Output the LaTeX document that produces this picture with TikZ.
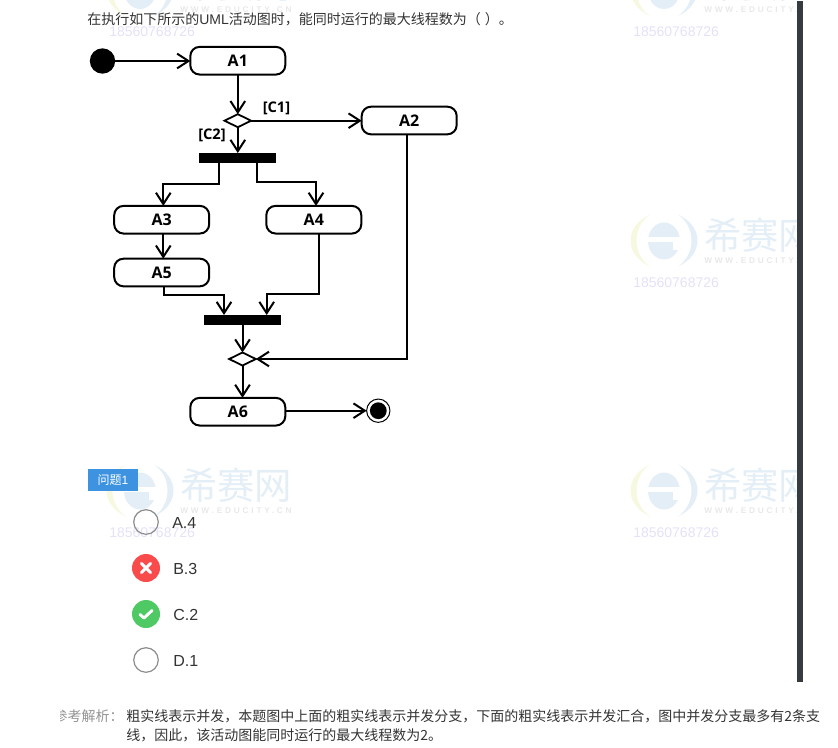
\documentclass[tikz,border=0pt]{standalone}
\usepackage{fontspec}
\usetikzlibrary{arrows.meta,shapes.geometric,calc}
\setmainfont{Noto Sans CJK SC}
\newfontfamily\latinui{Liberation Sans}
\newfontfamily\diag{Open Sans}
\newfontfamily\wwwfont[LetterSpace=34]{Liberation Sans}
\definecolor{inkc}{HTML}{333333}
\definecolor{wmblue}{HTML}{E4EEF7}
\definecolor{wmyellow}{HTML}{F6F8DF}
\definecolor{wmgray}{HTML}{E8E8E8}
\definecolor{wmnum}{HTML}{E4E1F8}
\definecolor{tagblue}{HTML}{3D93E0}
\definecolor{barc}{HTML}{363B40}
\definecolor{ringc}{HTML}{8C8C8C}
\definecolor{redc}{HTML}{F94A4C}
\definecolor{greenc}{HTML}{4EC963}
\newcommand{\wmark}[2]{%
 \begin{scope}[shift={(#1,#2)}]
  \fill[wmblue] (0,0.5) ellipse[x radius=16,y radius=18.5];
  \fill[white] (-17,-3.5) rectangle (17,1.5);
  \fill[white] (9,1) rectangle (17,9);
  \fill[wmblue] (14,-26) .. controls (40,-14) and (40,14) .. (14,26) .. controls (32,14) and (32,-14) .. (14,-26) -- cycle;
  \fill[wmyellow] (-14,-26) .. controls (-40,-14) and (-40,14) .. (-14,26) .. controls (-32,14) and (-32,-14) .. (-14,-26) -- cycle;
  \node[anchor=west,inner sep=0,text=wmblue,font=\fontsize{28}{28}\selectfont] (wa#1#2) at (40,-5.5) {希赛网};
  \node[anchor=west,inner sep=0,text=wmgray,font=\wwwfont\bfseries\fontsize{6.2}{7}\selectfont] (wb#1#2) at (40,20) {WWW.EDUCITY.CN};
  \node[anchor=west,inner sep=0,text=wmnum,font=\latinui\fontsize{10.5}{11}\selectfont] (wc#1#2) at (-31,42) {18560768726};
 \end{scope}}
\tikzset{
 act/.style={draw,line width=1.5pt,rounded corners=7pt,minimum width=71.25pt,minimum height=20.75pt,inner sep=0,outer sep=0,font=\diag\bfseries\fontsize{12}{12}\selectfont},
 forkbar/.style={fill=black,minimum width=57.75pt,minimum height=7.5pt,inner sep=0,outer sep=0},
 decis/.style={draw,line width=1.35pt,diamond,minimum width=20pt,minimum height=9.75pt,inner sep=0,outer sep=0,shape aspect=2},
 flow/.style={line width=1.5pt,-{Straight Barb[length=8.5pt,width=11pt,line width=1.5pt]}},
 guard/.style={inner sep=0,font=\diag\bfseries\fontsize{11}{11}\selectfont},
 ring/.style={circle,draw=ringc,line width=.9pt,minimum size=18.4pt,inner sep=0},
 opt/.style={anchor=west,inner sep=0,text=inkc,font=\latinui\fontsize{12}{12}\selectfont},
 para/.style={anchor=west,inner sep=0,text=inkc,font=\fontsize{10.5}{10.5}\selectfont},
}
\begin{document}
\begin{tikzpicture}[x=.75pt,y=-.75pt]
\useasboundingbox (0,0) rectangle (838,747);
\clip (0,0) rectangle (838,747);
% watermarks
\begin{scope}
\clip (0,0) rectangle (797,747);
\wmark{140}{-10}
\wmark{664}{-10}
\wmark{664}{240.5}
\wmark{140}{490.5}
\wmark{664}{490.5}
\end{scope}
% scrollbar
\fill[barc] (797,1) rectangle (803,682);
% question
\node[para] (q) at (87,19.5) {在执行如下所示的{\latinui UML}活动图时，能同时运行的最大线程数为（\hspace{3pt}）。};
% diagram
\node[circle,fill=black,minimum size=19pt,inner sep=0,outer sep=0] (start) at (102.5,61) {};
\node[act] (a1) at (237.8,60.7) {A1};
\node[act] (a2) at (409.2,120.5) {A2};
\node[decis] (d1) at (237.8,120.7) {};
\node[forkbar] (f1) at (237.5,158) {};
\node[act] (a3) at (161.7,219.7) {A3};
\node[act] (a4) at (313.8,219.7) {A4};
\node[act] (a5) at (161.7,272.5) {A5};
\node[forkbar] (f2) at (242.4,320) {};
\node[decis] (d2) at (242.5,359) {};
\node[act] (a6) at (237.8,411.7) {A6};
\node[circle,draw,line width=.75pt,minimum size=17.5pt,inner sep=0,outer sep=0] (end) at (378.3,410.7) {};
\fill (end.center) circle[radius=6.3pt];
\node[guard,anchor=center] (c1) at (276.5,108) {[C1]};
\node[guard,anchor=center] (c2) at (212,135) {[C2]};
\draw[flow] (start) -- (a1.west |- start);
\draw[flow] (a1.south -| d1.north) -- (d1.north);
\draw[flow] (d1.east) -- (a2.west |- d1.east);
\draw[flow] (d1.south) -- (f1.north -| d1.south);
\coordinate (f1a) at ($(f1.south)+(-19,0)$);
\coordinate (f1b) at ($(f1.south)+(19.2,0)$);
\coordinate (a3in) at ($(a3.north)+(1.6,0)$);
\coordinate (a4in) at ($(a4.north)+(2.2,0)$);
\draw[flow] (f1a) |- ($(a3in)+(0,-22)$) -- (a3in);
\draw[flow] (f1b) |- ($(a4in)+(0,-24)$) -- (a4in);
\draw[flow] (a3in |- a3.south) -- (a3in |- a5.north);
\coordinate (a5out) at ($(a5.south)+(2.3,0)$);
\coordinate (a4out) at ($(a4.south)+(5.2,0)$);
\coordinate (f2a) at ($(f2.north)+(-18.4,0)$);
\coordinate (f2b) at ($(f2.north)+(24.3,0)$);
\draw[flow] (a5out) |- ($(f2a)+(0,-20.3)$) -- (f2a);
\draw[flow] (a4out) |- ($(f2b)+(0,-21)$) -- (f2b);
\draw[flow] (f2.south -| d2.north) -- (d2.north);
\coordinate (a2out) at ($(a2.south)+(-2.5,0)$);
\draw[flow] (a2out) |- (d2.east);
\draw[flow] (d2.south) -- (d2.south |- a6.north);
\draw[flow] (a6.east |- end.west) -- (end.west);
% question tag
\node[fill=tagblue,text=white,minimum width=37.5pt,minimum height=16.5pt,inner sep=0,font=\fontsize{9}{9}\selectfont] (tag) at (113,480) {问题{\latinui 1}};
% options
\node[ring] (ra) at (146,522) {};
\node[circle,fill=redc,minimum size=21pt,inner sep=0] (rb) at (146,568) {};
\node[circle,fill=greenc,minimum size=21pt,inner sep=0] (rc) at (146,614) {};
\node[ring] (rd) at (146,660) {};
\draw[white,line width=2.2pt,line cap=round] ($(rb)+(-4.6,-4.6)$) -- ($(rb)+(4.6,4.6)$) ($(rb)+(4.6,-4.6)$) -- ($(rb)+(-4.6,4.6)$);
\draw[white,line width=2.2pt,line cap=round,line join=round] ($(rc)+(-6,0.5)$) -- ($(rc)+(-2,4)$) -- ($(rc)+(6,-3.5)$);
\node[opt] (ta) at (172,522.5) {A.4};
\node[opt] (tb) at (173,568.5) {B.3};
\node[opt] (tc) at (173,614.5) {C.2};
\node[opt] (td) at (173,660.5) {D.1};
% explanation
\begin{scope}
\clip (60,700) rectangle (124,730);
\node[para,text=gray!85,anchor=east] (lab) at (124,716) {参考解析：};
\end{scope}
\node[para] (l1) at (126,716) {粗实线表示并发，本题图中上面的粗实线表示并发分支，下面的粗实线表示并发汇合，图中并发分支最多有2条支};
\node[para] (l2) at (126,735) {线，因此，该活动图能同时运行的最大线程数为2。};
\end{tikzpicture}
\end{document}
